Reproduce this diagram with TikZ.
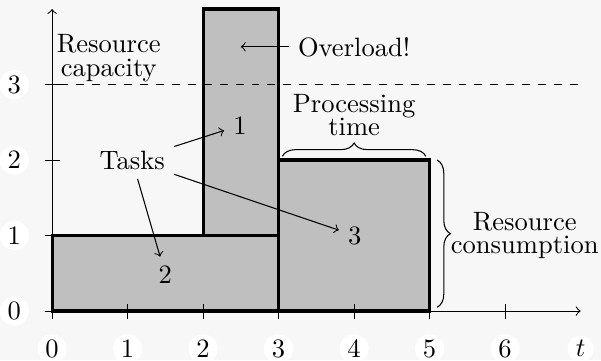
\documentclass[tikz,border=0pt]{standalone}
\usetikzlibrary{decorations.pathreplacing}
\begin{document}
\begin{tikzpicture}[>=to,
  task/.style={very thick,fill=lightgray},
  ticklabel/.style={fill=white,circle,inner sep=1pt},
  brace/.style={decorate,decoration={brace,amplitude=5pt}}]
   \useasboundingbox[fill=black!3] (-0.69,-0.65) rectangle (7.27,4.12);

   % Tasks
   \draw[task] (0,0) rectangle (3,1);
   \draw[task] (2,1) rectangle (3,4);
   \draw[task] (3,0) rectangle (5,2);

   % Axes
   \draw[->] (-0.1,0) -- (7,0);
   \draw[->] (0,-0.1) -- (0,4);
   \foreach \i in {0,...,6}
      \draw (\i,-0.1) -- (\i,0.1) node[ticklabel] at (\i,-0.5) {$\i$};
   \node[ticklabel] at (7,-0.5) {$t$};
   \foreach \j in {0,...,3}
      \draw (-0.1,\j) -- (0.1,\j) node[ticklabel] at (-0.5,\j) {$\j$};

   % Capacity
   \draw[dashed] (-0.1,3) -- (7,3);
   \node[align=center] (capacity) at (0.75,3.35) {Resource\\[-3pt]capacity};
   \node (overload) at (4,3.5) {Overload!};
   \coordinate (peak) at (2.5,3.5);
   \draw[->] (overload) -- (peak);

   % Task labels
   \node (t1) at (2.49,2.46) {1};
   \node (t2) at (1.5,0.48) {2};
   \node (t3) at (4.01,1.0) {3};
   \node (tasks) at (1.06,2.0) {Tasks};
   \draw[->] (tasks) -- (t1);
   \draw[->] (tasks) -- (t2);
   \draw[->] (tasks) -- (t3);

   % Braces
   \draw[brace] (3.05,2.05) -- (4.95,2.05)
      node[midway,above=4pt,align=center] (time) {Processing\\[-3pt]time};
   \draw[brace] (5.1,2) -- (5.1,0.05);
   \node[align=center,inner sep=1pt] (consumption) at (6.26,1.0) {Resource\\[-3pt]consumption};
\end{tikzpicture}
\end{document}
